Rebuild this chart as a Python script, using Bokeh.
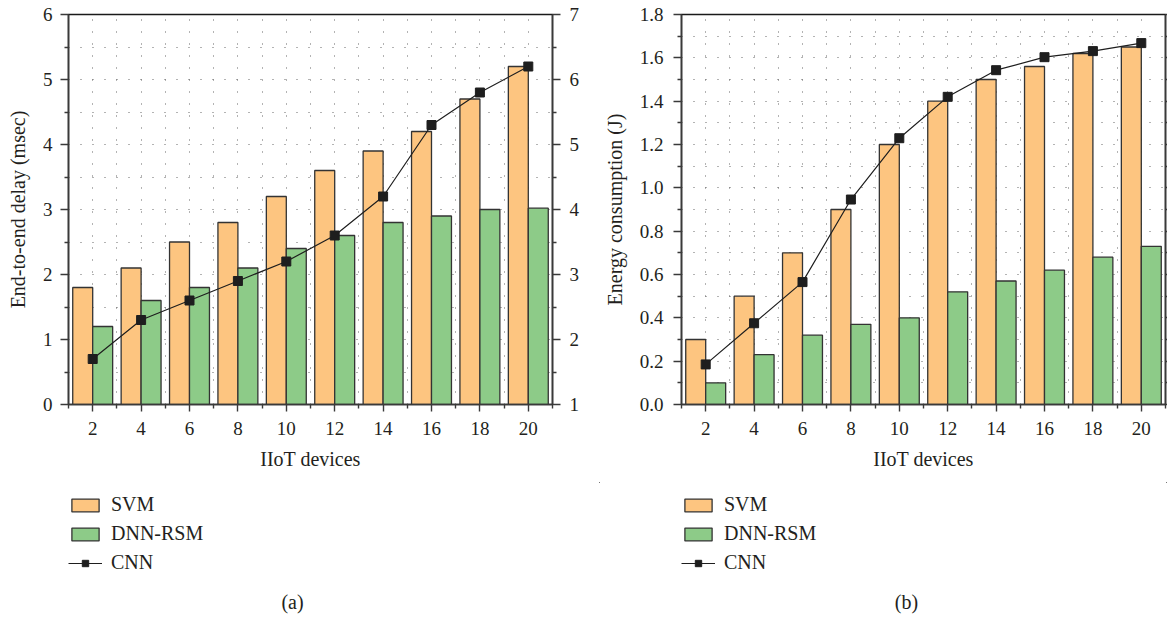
from bokeh.plotting import figure
from bokeh.layouts import row, column
from bokeh.models import (Range1d, LinearAxis, FixedTicker, Legend, LegendItem,
                          Label, PrintfTickFormatter, ColumnDataSource)
from bokeh.transform import dodge
from bokeh.embed import file_html
from bokeh.resources import INLINE

# ---------------- data ----------------
devices = [2, 4, 6, 8, 10, 12, 14, 16, 18, 20]

delay_svm = [1.8, 2.1, 2.5, 2.8, 3.2, 3.6, 3.9, 4.2, 4.7, 5.2]
delay_dnn = [1.2, 1.6, 1.8, 2.1, 2.4, 2.6, 2.8, 2.9, 3.0, 3.02]
delay_cnn = [1.7, 2.3, 2.6, 2.9, 3.2, 3.6, 4.2, 5.3, 5.8, 6.2]   # right axis

energy_svm = [0.3, 0.5, 0.7, 0.9, 1.2, 1.4, 1.5, 1.56, 1.62, 1.65]
energy_dnn = [0.1, 0.23, 0.32, 0.37, 0.4, 0.52, 0.57, 0.62, 0.68, 0.73]
energy_cnn = [0.185, 0.375, 0.565, 0.946, 1.229, 1.42, 1.543, 1.603, 1.631, 1.668]

x_minor = [1, 3, 5, 7, 9, 11, 13, 15, 17, 19, 21]
delay_left_ticks = [0, 1, 2, 3, 4, 5, 6]
delay_left_minor = [0.5, 1.5, 2.5, 3.5, 4.5, 5.5]
delay_right_ticks = [1, 2, 3, 4, 5, 6, 7]
delay_right_minor = [1.5, 2.5, 3.5, 4.5, 5.5, 6.5]
energy_ticks = [0.0, 0.2, 0.4, 0.6, 0.8, 1.0, 1.2, 1.4, 1.6, 1.8]
energy_minor = [0.1, 0.3, 0.5, 0.7, 0.9, 1.1, 1.3, 1.5, 1.7]

labels = ["SVM", "DNN-RSM", "CNN"]

# ---------------- style ----------------
FONT = "Liberation Serif"
TXT = "#231f20"
AX = "#3a3a3a"
SVM_C = "#fdc580"
DNN_C = "#8dcb88"
BAR_LINE = "#333333"
CNN_C = "#1e1e1e"
BAR_W = 0.825
FRAME_H = 390
TOP = 14
BOTTOM = 78
LEG_H = 134


def style_axis(ax, label_standoff=7, tick=8):
    ax.axis_line_color = AX
    ax.axis_line_width = 1.6
    ax.major_tick_line_color = AX
    ax.minor_tick_line_color = AX
    ax.major_tick_line_width = 1.4
    ax.minor_tick_line_width = 1.4
    ax.major_tick_out = tick
    ax.major_tick_in = 0
    ax.minor_tick_out = 4
    ax.minor_tick_in = 0
    ax.major_label_text_font = FONT
    ax.major_label_text_font_size = "19px"
    ax.major_label_text_color = TXT
    ax.major_label_standoff = label_standoff
    ax.axis_label_text_font = FONT
    ax.axis_label_text_font_size = "20px"
    ax.axis_label_text_font_style = "normal"
    ax.axis_label_text_color = TXT


SVM_STYLE = dict(fill_color=SVM_C, line_color=BAR_LINE, line_width=1.3)
DNN_STYLE = dict(fill_color=DNN_C, line_color=BAR_LINE, line_width=1.3)
CNN_LINE = dict(line_color=CNN_C, line_width=1.2)
CNN_MARK = dict(marker="square", size=9, fill_color=CNN_C, line_color=CNN_C)


def make_chart(src, y_max, y_ticks, y_minor, y_label, y_standoff,
               frame_left, frame_width, border_right,
               right_range=None, right_ticks=None, right_minor=None, fmt=None):
    p = figure(frame_width=frame_width, frame_height=FRAME_H,
               x_range=Range1d(1, 21), y_range=Range1d(0, y_max),
               output_backend="svg", toolbar_location=None,
               min_border_left=frame_left, min_border_right=border_right,
               min_border_top=TOP, min_border_bottom=BOTTOM,
               background_fill_color="white", border_fill_color="white")
    p.outline_line_color = "#1a1a1a"
    p.outline_line_width = 1.5

    for g in (p.xgrid, p.ygrid):
        g.grid_line_color = "#666666"
        g.grid_line_width = 1
        g.grid_line_dash = "1 11"
    p.xgrid.ticker = FixedTicker(ticks=sorted(devices + x_minor))
    p.ygrid.ticker = FixedTicker(ticks=sorted(y_ticks + y_minor))

    style_axis(p.xaxis[0], 10, 7)
    p.xaxis[0].ticker = FixedTicker(ticks=devices, minor_ticks=x_minor)
    p.xaxis[0].axis_label = "IIoT devices"
    p.xaxis[0].axis_label_standoff = 10
    style_axis(p.yaxis[0], y_standoff, 8)
    p.yaxis[0].ticker = FixedTicker(ticks=y_ticks, minor_ticks=y_minor)
    p.yaxis[0].axis_label = y_label
    p.yaxis[0].axis_label_standoff = 11
    if fmt:
        p.yaxis[0].formatter = PrintfTickFormatter(format=fmt)

    y_name = "default"
    if right_range is not None:
        p.extra_y_ranges = {"right": Range1d(*right_range)}
        y_name = "right"
        rax = LinearAxis(y_range_name="right",
                         ticker=FixedTicker(ticks=right_ticks, minor_ticks=right_minor))
        style_axis(rax, 9, 8)
    else:
        rax = LinearAxis(ticker=FixedTicker(ticks=y_ticks, minor_ticks=y_minor))
        style_axis(rax, 0, 2)
        rax.major_label_text_font_size = "0px"
        rax.major_label_text_color = None
        rax.minor_tick_out = 2
    p.add_layout(rax, "right")

    p.vbar(x=dodge("x", -BAR_W / 2, range=p.x_range), top="svm", width=BAR_W,
           source=src, **SVM_STYLE)
    p.vbar(x=dodge("x", BAR_W / 2, range=p.x_range), top="dnn", width=BAR_W,
           source=src, **DNN_STYLE)
    p.line(x="x", y="cnn", source=src, y_range_name=y_name, **CNN_LINE)
    p.scatter(x="x", y="cnn", source=src, y_range_name=y_name, **CNN_MARK)
    return p


def make_legend(src, width, legend_x, caption, caption_x):
    # a strip below the chart holding the key and the panel caption;
    # its ranges lie far away from the data, so only the key swatches show
    f = figure(width=width, height=LEG_H,
               x_range=Range1d(-200, -199), y_range=Range1d(-200, -199),
               x_axis_type=None, y_axis_type=None, output_backend="svg",
               toolbar_location=None, min_border=0,
               background_fill_color="white", border_fill_color="white")
    f.outline_line_color = None
    f.xgrid.visible = False
    f.ygrid.visible = False
    r1 = f.vbar(x="x", top="svm", width=BAR_W, source=src, **SVM_STYLE)
    r2 = f.vbar(x="x", top="dnn", width=BAR_W, source=src, **DNN_STYLE)
    r3 = f.line(x="x", y="cnn", source=src, **CNN_LINE)
    r4 = f.scatter(x="x", y="cnn", source=src, **CNN_MARK)
    legend = Legend(items=[LegendItem(label=labels[0], renderers=[r1]),
                           LegendItem(label=labels[1], renderers=[r2]),
                           LegendItem(label=labels[2], renderers=[r3, r4])],
                    location=(legend_x, 42), orientation="vertical",
                    glyph_width=34, glyph_height=16, label_height=16,
                    spacing=6, padding=0, margin=0, label_standoff=9,
                    border_line_color=None, background_fill_alpha=0,
                    label_text_font=FONT, label_text_font_size="20px",
                    label_text_color=TXT)
    f.add_layout(legend)
    f.add_layout(Label(x=caption_x, y=15, x_units="screen", y_units="screen",
                       text=caption, text_align="center", text_baseline="middle",
                       text_font=FONT, text_font_size="20px", text_color=TXT))
    return f


src1 = ColumnDataSource(dict(x=devices, svm=delay_svm, dnn=delay_dnn, cnn=delay_cnn))
src2 = ColumnDataSource(dict(x=devices, svm=energy_svm, dnn=energy_dnn, cnn=energy_cnn))

p1 = make_chart(src1, 6, delay_left_ticks, delay_left_minor,
                "End-to-end delay (msec)", 8,
                frame_left=68, frame_width=484, border_right=48,
                right_range=(1, 7), right_ticks=delay_right_ticks,
                right_minor=delay_right_minor)

p2 = make_chart(src2, 1.8, energy_ticks, energy_minor,
                "Energy consumption (J)", 10,
                frame_left=81, frame_width=484, border_right=2, fmt="%.1f")

l1 = make_legend(src1, 600, 68, "(a)", 292)
l2 = make_legend(src2, 567, 81, "(b)", 306)

layout = column(row(p1, p2), row(l1, l2))
open("out.html", "w").write(file_html(layout, INLINE))
